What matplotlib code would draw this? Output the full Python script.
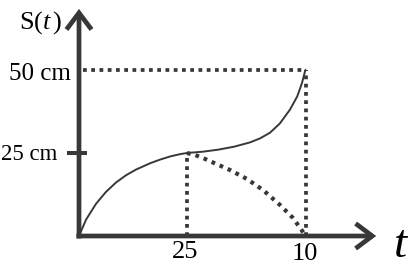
import matplotlib
matplotlib.use('Agg')
import matplotlib.pyplot as plt

plt.rcParams['font.family'] = ['Liberation Serif', 'DejaVu Serif']
plt.rcParams['mathtext.fontset'] = 'custom'
plt.rcParams['mathtext.rm'] = 'Liberation Serif'
plt.rcParams['mathtext.it'] = 'Liberation Serif:italic'

# DATA (t in chart units, s in cm)
t_rise = [0, 1.62, 3.94, 6.25, 8.56, 10.88, 13.19, 16.44, 18.75, 21.06, 23.38, 25]
s_rise = [0, 4.91, 9.7, 13.3, 16.1, 18.3, 20.0, 21.9, 23.0, 23.95, 24.65, 25]

t_upper = [25, 28.7, 32.2, 35.9, 39.6, 41.9, 44.2, 46.5, 48.8, 50.5, 51.6, 52.4]
s_upper = [25, 25.4, 26.0, 26.9, 28.2, 29.4, 31.1, 33.9, 38.0, 42.0, 46.0, 50.0]

t_lower = [25, 26.85, 28.7, 31.02, 34.95, 38.89, 42.59, 46.53, 49.54, 51.85, 52.5]
s_lower = [25, 24.4, 23.49, 22.14, 19.88, 17.17, 13.86, 9.34, 5.42, 1.2, 0]

t_mid, t_end = 25, 52.5
s_mid, s_top = 25, 50
t_labels = ['25', '10']
s_labels = ['25 cm', '50 cm']

ink = '#383838'

# PLOTTING
fig = plt.figure(figsize=(4.16, 2.72), dpi=100)
ax = fig.add_axes([0, 0, 1, 1])
ax.set_xlim(-79 / 4.32, 337 / 4.32)
ax.set_ylim(-36 / 3.32, 236 / 3.32)
ax.axis('off')

# axes with open arrow heads
arrow = dict(arrowstyle='->,head_length=0.6,head_width=0.45', lw=3.4, color=ink,
             shrinkA=0, shrinkB=0, mutation_scale=20, joinstyle='miter', capstyle='butt')
ax.annotate('', xy=(0, 68.4), xytext=(0, -0.75), arrowprops=arrow)
ax.annotate('', xy=(68.8, 0), xytext=(-0.6, 0), arrowprops=arrow)

# tick at 25 cm
ax.plot([-2.8, 1.85], [s_mid, s_mid], color=ink, lw=2.9, solid_capstyle='butt')

# guide lines
dots = dict(color=ink, lw=2.7, linestyle=(0, (1, 1.2)), dash_capstyle='butt')
ax.plot([0.9, t_end], [s_top, s_top], **dots)
ax.plot([t_end, t_end], [0, s_top], **dots)
ax.plot([t_mid, t_mid], [0, s_mid], **dots)

# curves
ax.plot(t_rise + t_upper[1:], s_rise + s_upper[1:], color=ink, lw=1.4, solid_capstyle='round')
ax.plot(t_lower, s_lower, color=ink, lw=3.0, linestyle=(0, (0.9, 1.2)), dash_capstyle='butt')

# labels
ax.text(-1.85, 48.8, s_labels[1], ha='right', va='center', fontsize=18, color='black')
ax.text(-5.1, 24.4, s_labels[0], ha='right', va='center', fontsize=16.5, color='black')
ax.text(-3.7, 64.3, r'$\mathrm{S}(t\,)$', ha='right', va='center', fontsize=19, color='black')
ax.text(24.5, -4.9, t_labels[0], ha='center', va='center', fontsize=19, color='black')
ax.text(52.3, -5.5, t_labels[1], ha='center', va='center', fontsize=19, color='black')
ax.text(74.5, -3, r'$t$', ha='center', va='center', fontsize=34, color='black')

fig.savefig('out.png', dpi=100)
